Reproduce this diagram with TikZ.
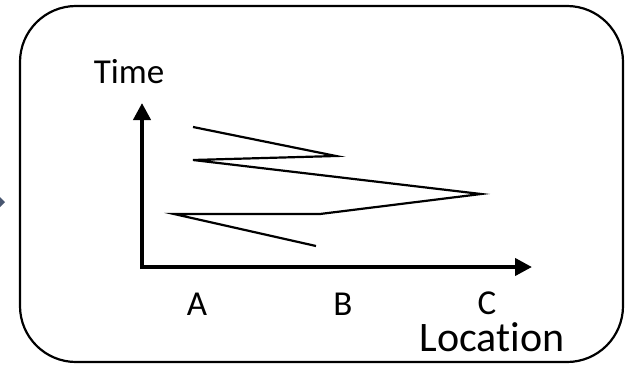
\documentclass[tikz,border=0pt]{standalone}
\usepackage{fontspec}
\setmainfont[Ligatures=NoCommon]{Carlito}
\usetikzlibrary{arrows.meta}
\definecolor{slate}{RGB}{72,86,112}
\begin{document}
\begin{tikzpicture}[x=1pt,y=-1pt,
  axis/.style={line width=4pt,-{Triangle[length=17pt,width=17pt]}},
  path/.style={line width=2.2pt,line join=miter},
  lab/.style={font=\fontsize{35}{40}\selectfont,inner sep=0pt,anchor=base}]
\useasboundingbox (0,0) rectangle (626,364);
\draw[line width=2.2pt,rounded corners=56pt] (20,6) rectangle (623,362);
\fill[slate] (0,197) -- (5,202) -- (0,207) -- (-5,202) -- cycle;
\coordinate (o) at (142,267);
\coordinate (yt) at (142,103);
\coordinate (xt) at (532,267);
\draw[axis] ([yshift=-2pt]o) -- (yt);
\draw[axis] ([xshift=-2pt]o) -- (xt);
\coordinate (p1) at (193,127);
\coordinate (p2) at (336,156);
\coordinate (p3) at (193,160);
\coordinate (p4) at (481,194);
\coordinate (p5) at (320,214);
\coordinate (p6) at (174,214);
\coordinate (p7) at (316,246);
\draw[path] (p1) -- (p2) -- (p3) -- (p4) -- (p5) -- (p6) -- (p7);
\node[lab] (time) at (129,83) {Time};
\node[lab] (a) at (197,315) {A};
\node[lab] (b) at (343,315) {B};
\node[lab] (c) at (487,314) {C};
\node[lab,font=\fontsize{42}{46}\selectfont] (loc) at (492,351) {Location};
\end{tikzpicture}
\end{document}
